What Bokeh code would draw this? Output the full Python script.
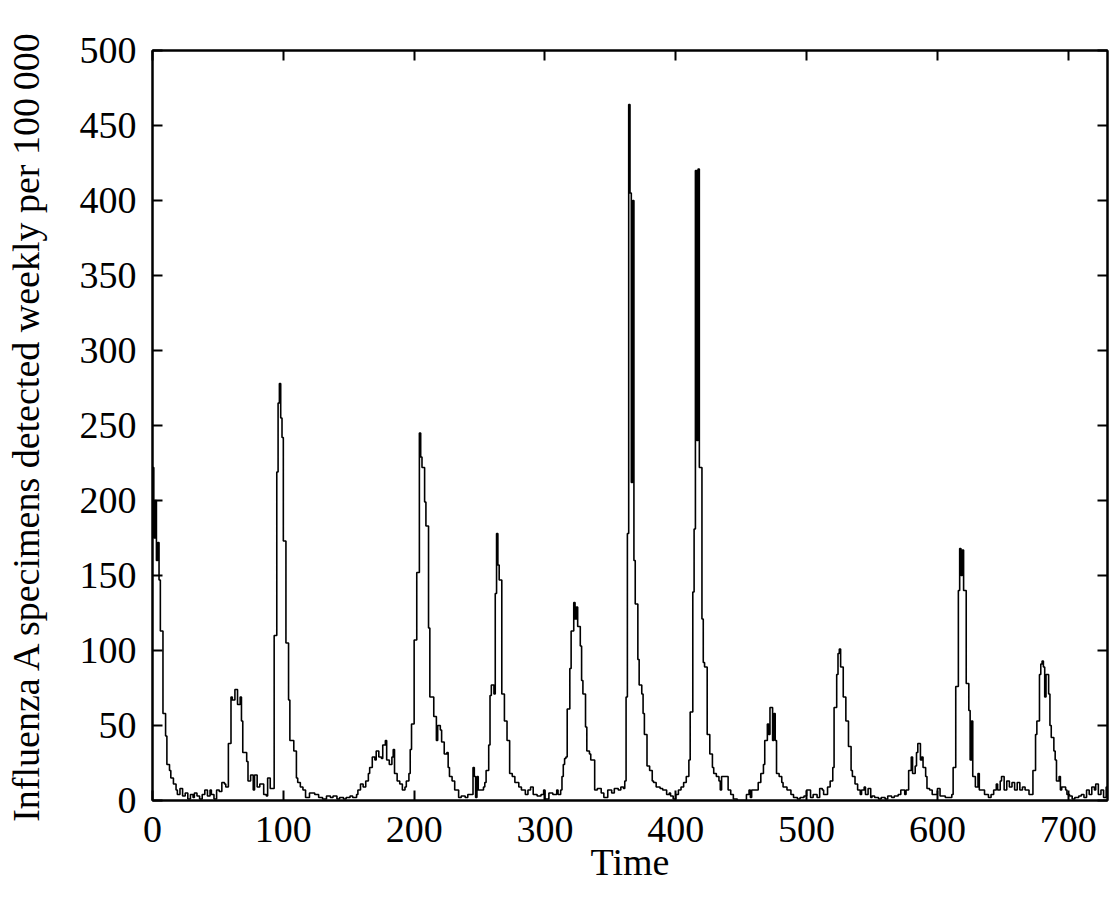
from bokeh.plotting import figure
from bokeh.models import LinearAxis, Range1d, FixedTicker, CustomJSTickFormatter
from bokeh.embed import file_html
from bokeh.resources import INLINE

# change points (time) and the level held from each time until the next
times = [0, 1, 2, 3, 4, 5, 6, 8, 10, 11, 13, 14, 16, 18, 19, 21, 23, 25, 27, 29,
         31, 32, 34, 36, 38, 40, 42, 44, 45, 47, 49, 51, 53, 55, 56, 58, 60, 61, 63, 65,
         67, 68, 69, 72, 73, 75, 77, 78, 80, 82, 85, 87, 88, 90, 93, 95, 96, 97, 98, 99,
         100, 102, 104, 105, 108, 110, 111, 113, 115, 117, 120, 124, 127, 130, 133, 136, 138, 141, 143, 146,
         148, 151, 153, 156, 157, 159, 161, 163, 165, 166, 168, 170, 171, 173, 175, 176, 178, 179, 181, 183,
         184, 185, 187, 189, 191, 193, 194, 196, 197, 198, 200, 202, 204, 205, 206, 208, 209, 211, 212, 215,
         217, 218, 220, 221, 223, 225, 226, 227, 229, 231, 234, 236, 239, 241, 245, 246, 247, 248, 249, 253,
         254, 255, 257, 258, 259, 261, 262, 263, 264, 265, 267, 269, 271, 273, 275, 277, 280, 282, 285, 287,
         289, 291, 294, 297, 299, 300, 303, 306, 309, 310, 312, 313, 314, 315, 316, 317, 319, 320, 322, 323,
         324, 325, 327, 328, 329, 331, 332, 334, 335, 338, 340, 343, 345, 348, 351, 353, 356, 358, 360, 361,
         362, 363, 364, 365, 366, 367, 368, 369, 371, 372, 374, 375, 376, 378, 380, 382, 383, 385, 388, 390,
         393, 395, 396, 398, 400, 402, 404, 406, 408, 410, 411, 413, 414, 415, 416, 417, 418, 420, 421, 422,
         424, 426, 428, 429, 431, 433, 434, 435, 438, 440, 442, 444, 447, 454, 456, 457, 458, 463, 465, 467,
         468, 470, 471, 472, 474, 475, 476, 477, 479, 481, 482, 485, 488, 490, 493, 495, 498, 500, 503, 505,
         508, 510, 512, 513, 516, 518, 520, 521, 523, 524, 525, 526, 528, 530, 532, 534, 535, 537, 539, 541,
         542, 544, 545, 547, 549, 550, 552, 555, 557, 560, 562, 565, 567, 570, 572, 575, 576, 578, 580, 581,
         583, 584, 585, 587, 588, 589, 591, 592, 594, 596, 600, 602, 606, 611, 612, 614, 616, 617, 618, 619,
         620, 622, 624, 625, 626, 627, 629, 631, 632, 636, 639, 641, 643, 645, 646, 648, 649, 651, 653, 655,
         657, 659, 661, 663, 665, 667, 670, 673, 675, 676, 678, 679, 680, 681, 682, 683, 685, 686, 687, 689,
         690, 691, 693, 694, 695, 698, 699, 701, 703, 705, 708, 710, 712, 714, 716, 718, 720, 721, 723, 725,
         727, 729, 730]

cases = [222, 175, 200, 160, 172, 147, 113, 58, 43, 24, 20, 15, 11, 7, 4, 8, 3, 5, 1, 4,
         2, 5, 3, 1, 4, 7, 3, 7, 4, 1, 7, 6, 12, 11, 9, 38, 69, 67, 74, 64,
         69, 53, 32, 26, 13, 17, 7, 17, 9, 11, 4, 3, 15, 8, 110, 219, 265, 278, 255, 242,
         173, 105, 67, 40, 33, 15, 12, 9, 7, 2, 5, 4, 2, 1, 3, 2, 3, 1, 2, 1,
         2, 3, 2, 4, 7, 11, 9, 13, 18, 22, 29, 27, 33, 29, 28, 37, 40, 27, 24, 29,
         34, 18, 13, 11, 7, 9, 13, 18, 34, 51, 107, 152, 245, 229, 222, 199, 183, 115, 69, 56,
         40, 50, 47, 39, 31, 32, 22, 16, 13, 7, 2, 3, 2, 4, 22, 16, 2, 16, 7, 9,
         12, 20, 37, 70, 77, 71, 138, 178, 157, 147, 71, 53, 40, 18, 16, 12, 9, 7, 4, 7,
         9, 4, 3, 4, 7, 1, 5, 4, 7, 4, 7, 16, 24, 28, 29, 61, 88, 113, 132, 121,
         129, 116, 103, 80, 71, 49, 33, 31, 27, 7, 8, 5, 2, 7, 5, 8, 7, 9, 8, 13,
         69, 178, 464, 405, 212, 400, 160, 131, 94, 77, 71, 58, 44, 23, 20, 13, 12, 9, 8, 7,
         4, 5, 3, 1, 4, 7, 9, 12, 16, 27, 59, 139, 181, 420, 240, 421, 222, 121, 92, 89,
         44, 31, 22, 18, 16, 13, 7, 16, 16, 7, 4, 1, 0, 4, 7, 2, 7, 12, 18, 24,
         40, 51, 44, 62, 40, 58, 40, 18, 16, 12, 9, 7, 4, 2, 1, 2, 3, 7, 2, 4,
         2, 8, 7, 4, 9, 13, 22, 62, 84, 98, 101, 89, 69, 53, 36, 20, 16, 11, 7, 4,
         7, 9, 4, 8, 2, 3, 2, 1, 2, 1, 3, 2, 3, 4, 7, 4, 7, 20, 29, 18,
         23, 32, 38, 27, 29, 22, 16, 8, 7, 4, 8, 3, 2, 4, 22, 76, 140, 168, 150, 167,
         140, 78, 60, 27, 53, 16, 9, 18, 7, 4, 2, 4, 7, 11, 7, 13, 16, 7, 13, 9,
         12, 7, 12, 7, 9, 7, 4, 20, 44, 53, 84, 91, 93, 89, 69, 84, 71, 50, 42, 33,
         27, 13, 16, 7, 9, 7, 4, 3, 1, 2, 3, 4, 2, 7, 4, 9, 7, 11, 4, 7,
         2, 9, 9]

x_ticks = [0, 100, 200, 300, 400, 500, 600, 700]
y_ticks = [0, 50, 100, 150, 200, 250, 300, 350, 400, 450, 500]
x_title = "Time"
y_title = "Influenza A specimens detected weekly per 100\u2009000"

FONT = "Liberation Serif"
FS = "38px"

p = figure(frame_width=955, frame_height=750,
           min_border_left=152, min_border_right=4, min_border_top=50, min_border_bottom=10,
           x_range=Range1d(0, 730), y_range=Range1d(0, 500),
           output_backend="svg", toolbar_location=None,
           x_axis_label=x_title, y_axis_label=y_title)

p.step(times, cases, mode="after", line_color="black", line_width=1.6)

p.grid.visible = False
p.background_fill_color = "white"
p.border_fill_color = "white"
p.outline_line_color = "black"
p.outline_line_width = 2

for ax, ticks in ((p.xaxis[0], x_ticks), (p.yaxis[0], y_ticks)):
    ax.ticker = FixedTicker(ticks=ticks)
    ax.axis_line_width = 2
    ax.major_tick_line_width = 2
    ax.major_tick_in = 10
    ax.major_tick_out = 0
    ax.minor_tick_line_color = None
    ax.major_label_text_font = FONT
    ax.major_label_text_font_size = FS
    ax.major_label_text_color = "black"
    ax.axis_label_text_font = FONT
    ax.axis_label_text_font_size = FS
    ax.axis_label_text_font_style = "normal"
    ax.axis_label_text_color = "black"

p.xaxis[0].major_label_standoff = 16
p.xaxis[0].axis_label_standoff = -4
p.yaxis[0].major_label_standoff = 16
p.yaxis[0].axis_label_standoff = 30

blank = CustomJSTickFormatter(code="return '';")
top = LinearAxis(ticker=FixedTicker(ticks=x_ticks), formatter=blank)
right = LinearAxis(ticker=FixedTicker(ticks=y_ticks), formatter=blank)
for ax in (top, right):
    ax.axis_line_width = 2
    ax.major_tick_line_width = 2
    ax.major_tick_in = 10
    ax.major_tick_out = 0
    ax.minor_tick_line_color = None
    ax.major_label_text_font_size = "0px"
    ax.major_label_standoff = 0
p.add_layout(top, "above")
p.add_layout(right, "right")

open("out.html", "w").write(file_html(p, INLINE))
